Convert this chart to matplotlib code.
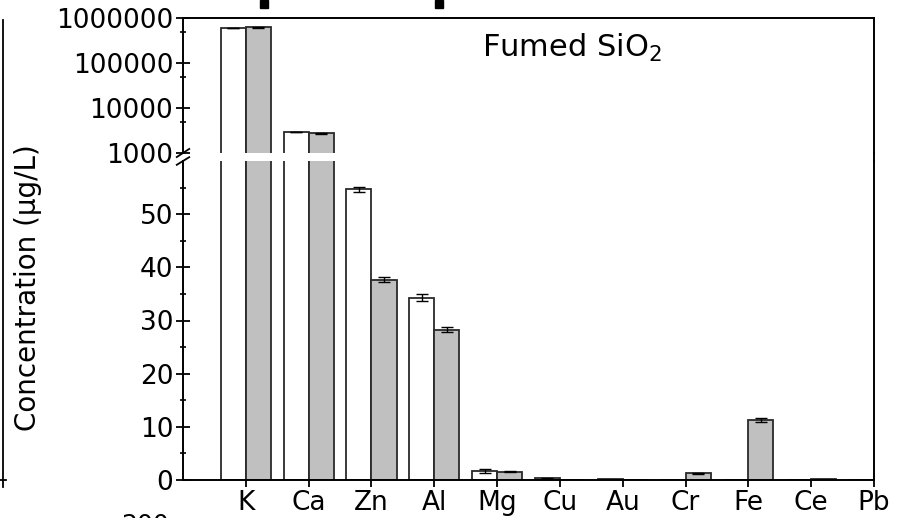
import numpy as np
import matplotlib
matplotlib.use("Agg")
import matplotlib.pyplot as plt
from matplotlib.lines import Line2D
from matplotlib.patches import Rectangle
from matplotlib.ticker import FixedLocator, FixedFormatter, NullFormatter

plt.rcParams['font.family'] = ['DejaVu Sans']
plt.rcParams['mathtext.fontset'] = 'dejavusans'

# Element concentrations (ug/L): open bars and grey bars, with error bars
elements = ["K", "Ca", "Zn", "Al", "Mg", "Cu", "Au", "Cr", "Fe", "Ce", "Pb"]
open_vals = [600000, 2900, 54.7, 34.3, 1.7, 0.3, 0.1, 0, 0, 0, 0]
grey_vals = [620000, 2750, 37.7, 28.3, 1.55, 0, 0, 1.25, 11.3, 0.1, 0]
open_err = [15000, 40, 0.5, 0.6, 0.45, 0.1, 0, 0, 0, 0, 0]
grey_err = [12000, 40, 0.45, 0.5, 0.1, 0, 0, 0.1, 0.3, 0, 0]

upper_ticks = [1000, 10000, 100000, 1000000]
upper_labels = ["1000", "10000", "100000", "1000000"]
lower_ticks = [0, 10, 20, 30, 40, 50]

W, H = 911, 518
fig = plt.figure(figsize=(W / 100, H / 100), dpi=100)

left, right = 183 / W, 874 / W
ax_top = fig.add_axes([left, 1 - 153 / H, right - left, 135 / H])
ax_bot = fig.add_axes([left, 1 - 480 / H, right - left, 319 / H])

x = np.arange(len(elements))
bw = 0.4
edge = "#2a2a2a"
tick_fs = 19

for ax, bottom in ((ax_top, 1.0), (ax_bot, 0.0)):
    ov = np.array(open_vals, dtype=float)
    gv = np.array(grey_vals, dtype=float)
    ax.bar(x - bw / 2, ov - bottom, bw, bottom=bottom,
           color="white", edgecolor=edge, linewidth=1.3, zorder=2)
    ax.bar(x + bw / 2, gv - bottom, bw, bottom=bottom,
           color="#c0c0c0", edgecolor=edge, linewidth=1.3, zorder=2)
    for xs, vals, errs in ((x - bw / 2, open_vals, open_err),
                           (x + bw / 2, grey_vals, grey_err)):
        m = np.array(errs) > 0
        ax.errorbar(xs[m], np.array(vals)[m], yerr=np.array(errs)[m], fmt="none",
                    ecolor="black", elinewidth=1.0, capsize=4.5, capthick=1.0, zorder=3)
    ax.set_xlim(-1, 10)
    for s in ax.spines.values():
        s.set_linewidth(1.4)
        s.set_color("black")

# Upper (log) panel
ax_top.set_yscale("log")
ax_top.set_ylim(1000, 1000000)
ax_top.yaxis.set_major_locator(FixedLocator(upper_ticks))
ax_top.yaxis.set_major_formatter(FixedFormatter(upper_labels))
ax_top.yaxis.set_minor_locator(FixedLocator([5000, 50000, 500000]))
ax_top.yaxis.set_minor_formatter(NullFormatter())
ax_top.spines["bottom"].set_visible(False)
ax_top.tick_params(axis="x", which="both", bottom=False, labelbottom=False)

# Lower (linear) panel
ax_bot.set_ylim(0, 60)
ax_bot.yaxis.set_major_locator(FixedLocator(lower_ticks))
ax_bot.yaxis.set_minor_locator(FixedLocator([5, 15, 25, 35, 45, 55]))
ax_bot.spines["top"].set_visible(False)
ax_bot.set_xticks(x)
ax_bot.set_xticklabels(elements)
ax_bot.tick_params(axis="x", which="major", direction="out", length=5, width=1.3,
                   labelsize=tick_fs, pad=2)

for ax in (ax_top, ax_bot):
    ax.tick_params(axis="y", which="major", direction="inout", length=10, width=1.3,
                   labelsize=tick_fs, pad=2, right=False)
    ax.tick_params(axis="y", which="minor", direction="inout", length=4, width=1.2,
                   right=False)

# Break marks on the left axis
d = 0.009
ax_top.plot([-d, d], [-0.03, 0.03], transform=ax_top.transAxes, color="black",
            lw=1.3, clip_on=False)
ax_bot.plot([-d, d], [1 - 0.012, 1 + 0.012], transform=ax_bot.transAxes, color="black",
            lw=1.3, clip_on=False)

# Continuous right frame across the break
fig.add_artist(Line2D([right, right], [1 - 161 / H, 1 - 153 / H], color="black", lw=1.4))

# Axis title and annotation
fig.text(28 / W, 1 - 288 / H, "Concentration (\u03bcg/L)", rotation=90,
         ha="center", va="center", fontsize=20)
fig.text(572 / W, 1 - 48 / H, "Fumed SiO$_2$", ha="center", va="center", fontsize=22)

# Neighbouring panel pieces at the figure edges
fig.add_artist(Line2D([3 / W, 3 / W], [1 - 487 / H, 1 - 20 / H], color="black", lw=1.3))
fig.add_artist(Line2D([0, 6 / W], [1 - 480 / H, 1 - 480 / H], color="black", lw=1.3))
fig.text(145 / W, 1 - 513 / H, "200", ha="center", va="top", fontsize=18)
for px in (260, 435):
    fig.add_artist(Rectangle((px / W, 1 - 8 / H), 8 / W, 8 / H, color="black",
                             transform=fig.transFigure))

fig.savefig("out.png", dpi=100)
